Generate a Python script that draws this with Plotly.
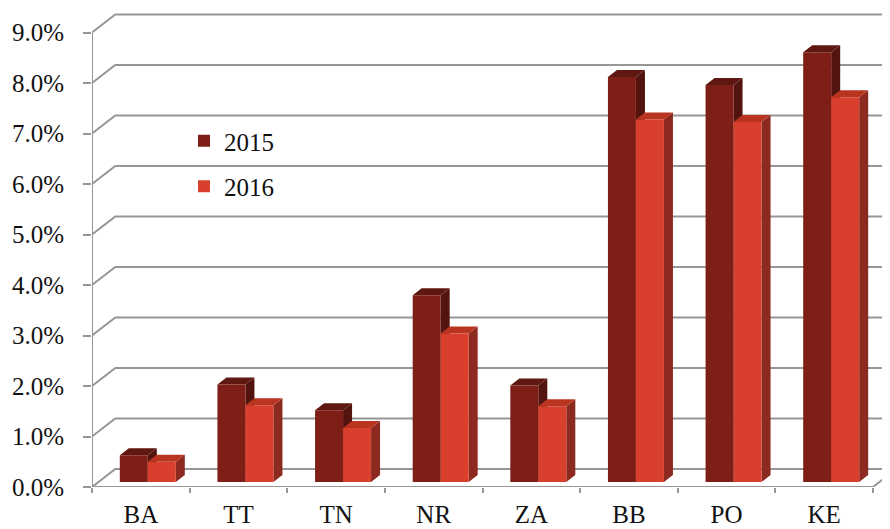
import plotly.graph_objects as go

# ---------------- data ----------------
categories = ["BA", "TT", "TN", "NR", "ZA", "BB", "PO", "KE"]
values_2015 = [0.53, 1.93, 1.42, 3.70, 1.91, 8.02, 7.86, 8.51]
values_2016 = [0.40, 1.52, 1.07, 2.94, 1.50, 7.18, 7.13, 7.62]
y_ticks = [0, 1, 2, 3, 4, 5, 6, 7, 8, 9]
y_ticktext = [f"{v:.1f}%" for v in y_ticks]
series_names = ["2015", "2016"]

# ---------------- geometry (pixel -> data helpers) ----------------
# the page body has an 8px margin, so the figure is 8px smaller than the window
W, H = 882, 521
ML, MR, MT, MB = 84, 0, 2, 42
PX_X = 97.625          # px per category
PX_Y = 50.5            # px per 1 %
XMAX = (W - ML - MR) / PX_X
YMAX = (H - MT - MB) / PX_Y

def dx(px):
    return px / PX_X

def dy(px):
    return px / PX_Y

wall = (dx(23.3), dy(18))      # back wall offset
bshift = (dx(7), dy(5))        # bar front-face offset from front plane
bdepth = (dx(9), dy(7))        # bar depth
bw = dx(28)                    # bar front width

GRID = "#969696"
COL_FRONT = ["#7E1F17", "#D83F2D"]
COL_TOP = ["#5E1711", "#B9351F"]
COL_SIDE = ["#53140F", "#8C2A1F"]

shapes = []

def line_path(pts):
    return "M " + " L ".join(f"{x},{y}" for x, y in pts)

def poly_path(pts):
    return line_path(pts) + " Z"

# back wall gridlines with left-wall diagonals
for v in y_ticks:
    shapes.append(dict(type="path", xref="x", yref="y", layer="below",
                       path=line_path([(0, v), (wall[0], v + wall[1]), (XMAX + 1, v + wall[1])]),
                       line=dict(color=GRID, width=2)))
# floor front edge + right diagonal, front vertical axis
n = len(categories)
shapes.append(dict(type="path", xref="x", yref="y", layer="below",
                   path=line_path([(0, 0), (n, 0), (n + wall[0], wall[1])]),
                   line=dict(color=GRID, width=2)))
shapes.append(dict(type="path", xref="x", yref="y", layer="below",
                   path=line_path([(0, 0), (0, y_ticks[-1])]),
                   line=dict(color=GRID, width=2)))

# 3D faces of the bars (computed from values)
base = bshift[1]
for i in range(n):
    xc = i + 0.5 + bshift[0]
    for s, vals in enumerate([values_2015, values_2016]):
        x0 = xc - bw if s == 0 else xc
        x1 = x0 + bw
        top = base + vals[i]
        side = [(x1, base), (x1, top), (x1 + bdepth[0], top + bdepth[1]), (x1 + bdepth[0], base + bdepth[1])]
        topf = [(x0, top), (x1, top), (x1 + bdepth[0], top + bdepth[1]), (x0 + bdepth[0], top + bdepth[1])]
        shapes.append(dict(type="path", xref="x", yref="y", layer="below",
                           path=poly_path(side), fillcolor=COL_SIDE[s], line=dict(width=0)))
        shapes.append(dict(type="path", xref="x", yref="y", layer="below",
                           path=poly_path(topf), fillcolor=COL_TOP[s], line=dict(width=0)))

fig = go.Figure()
for s, vals in enumerate([values_2015, values_2016]):
    fig.add_trace(go.Bar(
        name=series_names[s],
        x=[i + 0.5 + bshift[0] for i in range(n)],
        y=vals,
        base=[base] * n,
        width=bw,
        offset=-bw if s == 0 else 0,
        marker=dict(color=COL_FRONT[s], line=dict(width=0)),
        legendgroup=series_names[s],
    ))

FONT = "Liberation Serif, Times New Roman, serif"
fig.update_layout(
    width=W, height=H,
    margin=dict(l=ML, r=MR, t=MT, b=MB, autoexpand=False),
    plot_bgcolor="white", paper_bgcolor="white",
    barmode="overlay",
    shapes=shapes,
    font=dict(family=FONT, size=25, color="#111111"),
    legend=dict(x=(176 - ML) / (W - ML), y=1 - (110 - MT) / (H - MT - MB),
                xanchor="left", yanchor="top", bgcolor="rgba(0,0,0,0)",
                font=dict(family=FONT, size=25, color="#111111"),
                tracegroupgap=10, itemwidth=30),
    xaxis=dict(range=[0, XMAX], tickvals=[i + 0.5 for i in range(n)], ticktext=categories,
               ticks="", showgrid=False, zeroline=False, showline=False, automargin=False,
               ticklabelstandoff=10, tickfont=dict(size=25),
               minor=dict(tickvals=list(range(n + 1)), ticks="outside", ticklen=5,
                          tickcolor=GRID, tickwidth=2, showgrid=False)),
    yaxis=dict(range=[0, YMAX], tickvals=y_ticks, ticktext=y_ticktext,
               ticks="outside", ticklen=8, tickcolor=GRID, tickwidth=2, automargin=False,
               showgrid=False, zeroline=False, showline=False,
               ticklabelstandoff=14),
)

fig.write_html("out.html")
